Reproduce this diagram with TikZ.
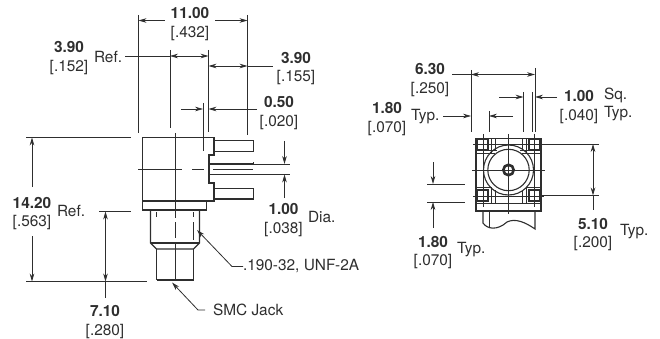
\documentclass[tikz,border=0pt]{standalone}
\usepackage{fontspec}
\setmainfont{TeX Gyre Heros}
\usetikzlibrary{arrows.meta, positioning}
\definecolor{inkgray}{gray}{0.18}
\newcommand{\dimval}[2]{\textbf{#1}\\{[#2]}}
\tikzset{
    dimtext/.style={inner sep=0pt, outer sep=0pt, align=center, text=inkgray, font=\fontsize{15.4}{18.6}\selectfont},
    part/.style={draw=inkgray, line width=1.1pt},
    heavy/.style={draw=inkgray, line width=1.6pt},
    fine/.style={draw=inkgray, line width=0.6pt},
    axis/.style={draw=inkgray, line width=0.9pt},
    ext/.style={draw=inkgray, line width=0.7pt},
    arrow/.style={draw=inkgray, line width=0.8pt, -{Stealth[length=8pt, width=4.6pt]}},
    twoway/.style={draw=inkgray, line width=0.8pt, {Stealth[length=8pt, width=4.6pt]}-{Stealth[length=8pt, width=4.6pt]}}
}
\begin{document}
\begin{tikzpicture}[x=1pt, y=-1pt]
    \useasboundingbox (0,0) rectangle (660,339);

    % labels of the side view
    \node[dimtext] (width) at (190,24) {\dimval{11.00}{.432}};
    \node[dimtext] (flange) at (69,58) {\dimval{3.90}{.152}};
    \node[dimtext, anchor=west] (flangeref) at (94,57) {Ref.};
    \node[dimtext] (pinpitch) at (296,68.5) {\dimval{3.90}{.155}};
    \node[dimtext] (pinstep) at (279,113) {\dimval{0.50}{.020}};
    \node[dimtext] (pindia) at (283.5,220) {\dimval{1.00}{.038}};
    \node[dimtext, anchor=west] (pindiatext) at (308,217) {Dia.};
    \node[dimtext] (overall) at (32,213.5) {\dimval{14.20}{.563}};
    \node[dimtext, anchor=west] (overallref) at (57,211) {Ref.};
    \node[dimtext] (thread) at (105,322) {\dimval{7.10}{.280}};
    \node[dimtext, anchor=west] (threadspec) at (243,266.5) {.190-32, UNF-2A};
    \node[dimtext, anchor=west] (jack) at (213,310) {SMC Jack};

    % labels of the end view
    \node[dimtext] (span) at (430,80) {\dimval{6.30}{.250}};
    \node[dimtext] (corner) at (387,119) {\dimval{1.80}{.070}};
    \node[dimtext, anchor=west] (cornertyp) at (411,117) {Typ.};
    \node[dimtext] (square) at (579,107) {\dimval{1.00}{.040}};
    \node[dimtext, anchor=west] (squaresq) at (604,95) {Sq.};
    \node[dimtext, anchor=west] (squaretyp) at (604,114) {Typ.};
    \node[dimtext] (pitch) at (593,234.5) {\dimval{5.10}{.200}};
    \node[dimtext, anchor=west] (pitchtyp) at (620,232) {Typ.};
    \node[dimtext] (edge) at (433,252.5) {\dimval{1.80}{.070}};
    \node[dimtext, anchor=west] (edgetyp) at (457,250) {Typ.};

    % side view, body
    \draw[part] (142.7,137.7) -- (214,137.7) -- (214,155) -- (209,155) -- (209,183) -- (214,183) -- (214,201) -- (142.7,201) -- cycle;
    \draw[part] (142.7,201) -- (142.7,210) -- (206.7,210) -- (206.7,201);
    \draw[heavy] (214,140) -- (214,152) (209,155) -- (209,183) (214,183) -- (214,199);
    \draw[part] (214,140.5) -- (253.5,140.5) -- (253.5,151.5) -- (214,151.5);
    \draw[part] (209,164) -- (253.5,164) (209,174.5) -- (253.5,174.5) (253.5,162) -- (253.5,164);
    \draw[heavy] (214,188.5) -- (253.5,188.5);
    \draw[part] (253.5,188.5) -- (253.5,199) -- (214,199);
    \draw[axis] (175,133) -- (175,218) (175,222) -- (175,238) (175,243) -- (175,281);
    \draw[axis] (138,169.5) -- (182,169.5) (192,169.5) -- (204,169.5) (213,169.5) -- (253,169.5);

    % side view, threaded part
    \draw[heavy] (150,210.6) -- (200,210.6);
    \draw[part] (150.5,211) -- (150.5,243) -- (156.5,249) -- (193.5,249) -- (199.5,243) -- (199.5,211);
    \draw[part] (151,243) -- (199,243);
    \draw[part] (156.5,249) -- (156.5,280) (193.5,249) -- (193.5,280);
    \draw[fine] (156.5,212) -- (156.5,217) (193.5,212) -- (193.5,217) (193.5,222) -- (193.5,240);
    \draw[heavy] (156.5,280) -- (193.5,280);

    % side view, dimensions
    \draw[ext] (138.5,15) -- (138.5,133) (247.5,15) -- (247.5,135);
    \draw[ext] (170,50) -- (170,128) (208.5,50) -- (208.5,132) (203,103) -- (203,151);
    \draw[arrow] (width.west |- 0,20.5) ++(-6,0) -- (138.5,20.5);
    \draw[arrow] (width.east |- 0,20.5) ++(6,0) -- (247.5,20.5);
    \draw[ext] (flangeref.east |- 0,56) ++(3,0) -- (170,56);
    \draw[twoway] (170,56) -- (208.5,56);
    \draw[twoway] (208.5,66) -- (247.5,66);
    \draw[ext] (247.5,66) -- (273,66);
    \draw[arrow] (181,109) -- (203,109);
    \draw[arrow] (257,109) -- (208.5,109);
    \draw[ext] (254,164) -- (290,164) (254,174.5) -- (290,174.5);
    \draw[arrow] (284.5,141) -- (284.5,164);
    \draw[arrow] (284.5,198) -- (284.5,174.5);
    \draw[ext] (26,137.5) -- (131,137.5) (99,211.5) -- (131,211.5) (26,281.5) -- (147,281.5);
    \draw[arrow] (32,187) -- (32,137.5);
    \draw[arrow] (32,236) -- (32,281.5);
    \draw[twoway] (105.5,211.5) -- (105.5,281.5);
    \draw[ext] (105.5,281.5) -- (105.5,298);
    \draw[arrow] (threadspec.west) -- (232,266.5) -- (197,230);
    \draw[arrow] (jack.west) ++(-8,0) -- (198,310) -- (172,282.5);

    % end view, housing
    \draw[heavy] (476,138.5) rectangle (541,211);
    \draw[part] (508.5,170) circle (25);
    \draw[part] (508.5,170) circle (20.7);
    \draw[draw=inkgray, line width=2.6pt] (508.5,170) circle (5.2);
    \draw[part] (477.5,139) rectangle (488,150);
    \draw[part] (529,139) rectangle (539.5,150);
    \draw[part] (477.5,190) rectangle (488,201);
    \draw[part] (529,190) rectangle (539.5,201);
    \draw[fine] (491,138.5) -- (491,153) (526,138.5) -- (526,153) (491,187) -- (491,203) (526,187) -- (526,203);
    \draw[fine] (495,138.5) -- (495,150) (522,138.5) -- (522,150) (495,190) -- (495,203) (522,190) -- (522,203);
    \draw[fine] (476,153) -- (495,153) (522,153) -- (541,153) (476,203) -- (541,203) (476,187) -- (491,187) (526,187) -- (541,187);
    \draw[fine] (488,150) -- (497,150) (520,150) -- (529,150) (488,196) -- (529,196);
    \draw[axis] (473,144) -- (544,144) (473,196) -- (544,196) (472,170) -- (545,170);
    \draw[axis] (483,134) -- (483,207) (534,134) -- (534,207) (508.5,134) -- (508.5,214);

    % end view, cut part below the housing
    \draw[heavy] (483,211.5) -- (535,211.5);
    \draw[part] (483,211) -- (483,223) .. controls (487,229) and (497,231) .. (507,222) .. controls (515,218) and (525,222) .. (535,229) -- (535,211);
    \draw[fine] (489,211) -- (489,227);

    % end view, dimensions
    \draw[ext] (471,70) -- (471,132) (535,68) -- (535,132) (532.5,92) -- (532.5,132);
    \draw[ext] (523.5,92) -- (523.5,132) (489,111) -- (489,132);
    \draw[ext] (452,74.5) -- (471,74.5);
    \draw[twoway] (471,74.5) -- (535,74.5);
    \draw[arrow] (cornertyp.east |- 0,116) ++(4,0) -- (471,116);
    \draw[arrow] (513,116) -- (489,116);
    \draw[arrow] (499,97) -- (523.5,97);
    \draw[arrow] (557,97) -- (535,97);
    \draw[ext] (541,144) -- (599,144) (541,195.5) -- (599,195.5);
    \draw[twoway] (593,144) -- (593,195.5);
    \draw[ext] (593,195.5) -- (593,210);
    \draw[ext] (427,184) -- (465,184) (427,202) -- (465,202);
    \draw[arrow] (433,162) -- (433,184);
    \draw[arrow] (433,228) -- (433,202);
\end{tikzpicture}
\end{document}
